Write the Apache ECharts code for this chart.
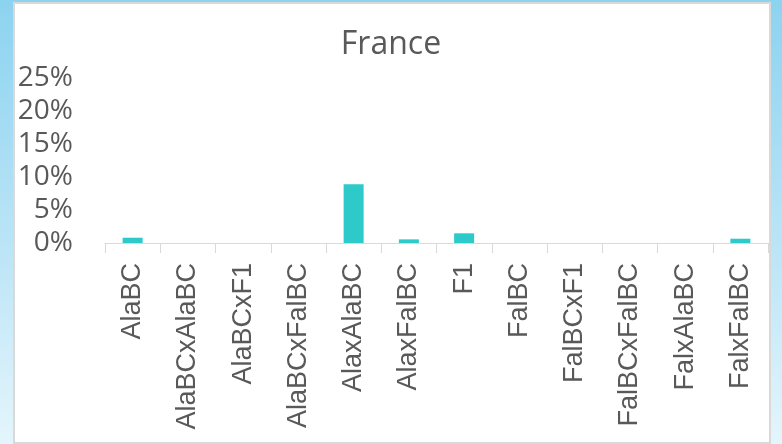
<!DOCTYPE html>
<html>
<head>
<meta charset="utf-8">
<script src="https://cdn.jsdelivr.net/npm/echarts@6/dist/echarts.min.js"></script>
<style>
html,body{margin:0;padding:0;}
body{width:782px;height:444px;background:linear-gradient(180deg,#8cd3f0 0%,#bfe6f7 60%,#e4f5fc 100%);overflow:hidden;}
#chart{width:782px;height:444px;}
</style>
</head>
<body>
<div id="chart"></div>
<script>
const titleText = "France";
const categories = ["AlaBC","AlaBCxAlaBC","AlaBCxF1","AlaBCxFalBC","AlaxAlaBC","AlaxFalBC","F1","FalBC","FalBCxF1","FalBCxFalBC","FalxAlaBC","FalxFalBC"];
const shares = [0.008, 0, 0, 0, 0.089, 0.0055, 0.0147, 0, 0, 0, 0, 0.0065];
const yTicks = {min: 0, max: 0.25, interval: 0.05};

const chart = echarts.init(document.getElementById('chart'), null, {renderer: 'canvas'});
chart.setOption({
  backgroundColor: 'transparent',
  animation: false,
  graphic: [{
    type: 'rect',
    shape: {x: 14, y: 3, width: 756, height: 440},
    style: {fill: '#ffffff', stroke: '#d9d9d9', lineWidth: 2},
    z: -10
  }],
  title: {
    text: titleText,
    left: 'center',
    top: 24,
    textStyle: {fontFamily: 'Open Sans', fontSize: 32, fontWeight: 'normal', color: '#595959'}
  },
  grid: {left: 105, right: 14, top: 78, bottom: 201, containLabel: false},
  xAxis: {
    type: 'category',
    data: categories,
    boundaryGap: true,
    axisLine: {lineStyle: {color: '#d9d9d9', width: 1}},
    axisTick: {show: true, length: 10, lineStyle: {color: '#d9d9d9'}},
    axisLabel: {rotate: 90, margin: 20, interval: 0, fontFamily: 'Liberation Sans', fontSize: 27, color: '#595959'}
  },
  yAxis: {
    type: 'value',
    min: yTicks.min,
    max: yTicks.max,
    interval: yTicks.interval,
    axisLine: {show: false},
    axisTick: {show: false},
    splitLine: {show: false},
    axisLabel: {
      margin: 32,
      fontFamily: 'Open Sans',
      fontSize: 28,
      color: '#595959',
      formatter: v => Math.round(v * 100) + '%'
    }
  },
  series: [{
    type: 'bar',
    data: shares,
    barWidth: 20,
    itemStyle: {color: '#2ecaca'}
  }]
});
</script>
</body>
</html>
